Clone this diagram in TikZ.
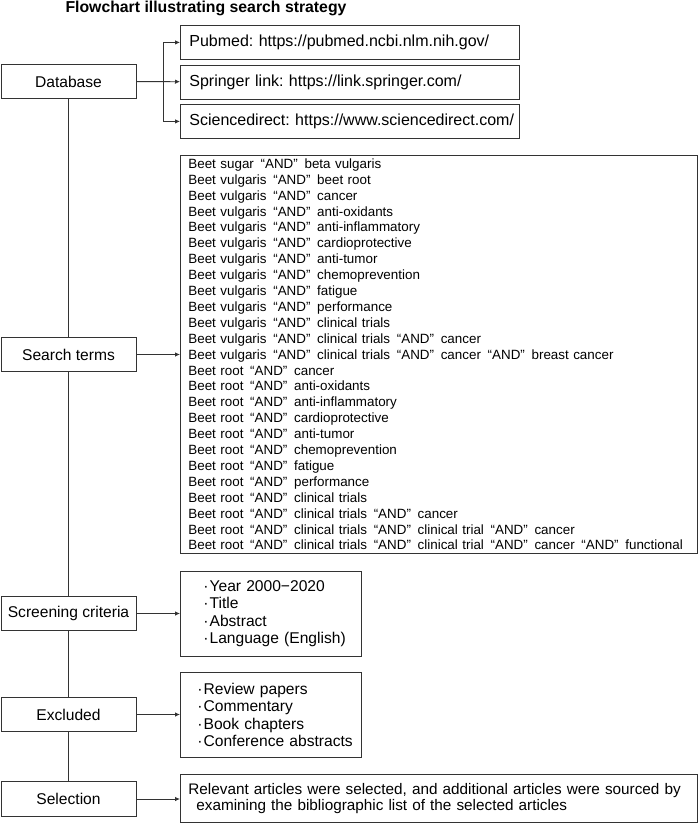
\documentclass[tikz,border=0pt]{standalone}
\usepackage{fontspec}
\setmainfont{Liberation Sans}
\usetikzlibrary{arrows.meta}
\frenchspacing
\hyphenpenalty=10000

\newcommand{\qand}{\hspace{0.5em}“AND”\hspace{0.5em}}
\newcommand{\bul}{·\hspace{1pt}}

\begin{document}
\begin{tikzpicture}[x=1pt,y=-1pt,
    stage/.style={draw=black!80,line width=0.8pt,minimum width=135pt,minimum height=34.5pt,inner sep=0pt,font=\fontsize{15.6}{18}\selectfont},
    info/.style={draw=black!80,line width=0.8pt,anchor=north west,inner xsep=8pt,inner ysep=0pt,align=left,font=\fontsize{15.6}{17.5}\selectfont},
    arr/.style={draw=black!80,line width=0.8pt,-{Latex[length=5pt,width=4.5pt]}},
    link/.style={draw=black!80,line width=0.8pt}]
  \useasboundingbox (0,0) rectangle (699,825);
  \node[font=\bfseries\fontsize{15.8}{18}\selectfont] (title) at (206,8) {Flowchart illustrating search strategy};
  % steps on the left
  \node[stage] (db) at (68.5,81.5) {Database};
  \node[stage] (terms) at (68.5,354.5) {Search terms};
  \node[stage] (screen) at (68.5,613.5) {Screening criteria};
  \node[stage] (excl) at (68.5,714.5) {Excluded};
  \node[stage] (sel) at (68.5,799) {Selection};
  % boxes on the right
  \node[info,inner xsep=9pt,text width=321pt,minimum height=34pt,font=\fontsize{16}{18}\selectfont] (pubmed) at (180,25) {\mbox{Pubmed: https://pubmed.ncbi.nlm.nih.gov/}};
  \node[info,inner xsep=9pt,text width=321pt,minimum height=34pt,font=\fontsize{16}{18}\selectfont] (springer) at (180,64.5) {\mbox{Springer link: https://link.springer.com/}};
  \node[info,inner xsep=9pt,text width=321pt,minimum height=34pt,font=\fontsize{16}{18}\selectfont] (sci) at (180,104) {\mbox{Sciencedirect: https://www.sciencedirect.com/}};
  \node[info,text width=501pt,minimum height=398pt,font=\fontsize{13.4}{15.9}\selectfont] (list) at (180,155) {%
    Beet sugar\qand beta vulgaris\\
    Beet vulgaris\qand beet root\\
    Beet vulgaris\qand cancer\\
    Beet vulgaris\qand anti-oxidants\\
    Beet vulgaris\qand anti-inflammatory\\
    Beet vulgaris\qand cardioprotective\\
    Beet vulgaris\qand anti-tumor\\
    Beet vulgaris\qand chemoprevention\\
    Beet vulgaris\qand fatigue\\
    Beet vulgaris\qand performance\\
    Beet vulgaris\qand clinical trials\\
    Beet vulgaris\qand clinical trials\qand cancer\\
    Beet vulgaris\qand clinical trials\qand cancer\qand breast cancer\\
    Beet root\qand cancer\\
    Beet root\qand anti-oxidants\\
    Beet root\qand anti-inflammatory\\
    Beet root\qand cardioprotective\\
    Beet root\qand anti-tumor\\
    Beet root\qand chemoprevention\\
    Beet root\qand fatigue\\
    Beet root\qand performance\\
    Beet root\qand clinical trials\\
    Beet root\qand clinical trials\qand cancer\\
    Beet root\qand clinical trials\qand clinical trial\qand cancer\\
    Beet root\qand clinical trials\qand clinical trial\qand cancer\qand functional};
  \node[info,text width=165pt,minimum height=85pt] (crit) at (180,571) {%
    \hspace{15pt}\bul Year 2000−2020\\
    \hspace{15pt}\bul Title\\
    \hspace{15pt}\bul Abstract\\
    \hspace{15pt}\bul Language (English)};
  \node[info,text width=165pt,minimum height=85pt] (excllist) at (180,672) {%
    \hspace{9pt}\bul Review papers\\
    \hspace{9pt}\bul Commentary\\
    \hspace{9pt}\bul Book chapters\\
    \hspace{9pt}\bul Conference abstracts};
  \node[info,text width=501pt,minimum height=48pt,font=\fontsize{15.3}{16}\selectfont] (seltext) at (180,774) {%
    Relevant articles were selected, and additional articles were sourced by\\
    \hspace{8pt}examining the bibliographic list of the selected articles};
  % trunk
  \draw[link] (db) -- (terms) -- (screen) -- (excl) -- (sel);
  % arrows
  \coordinate (fork) at (163,81.5);
  \draw[arr] (db) -- (springer);
  \draw[arr] (fork) |- (pubmed);
  \draw[arr] (fork) |- (sci);
  \draw[arr] (terms) -- (terms -| list.west);
  \draw[arr] (screen) -- (screen -| crit.west);
  \draw[arr] (excl) -- (excl -| excllist.west);
  \draw[arr] (sel) -- (sel -| seltext.west);
\end{tikzpicture}
\end{document}
